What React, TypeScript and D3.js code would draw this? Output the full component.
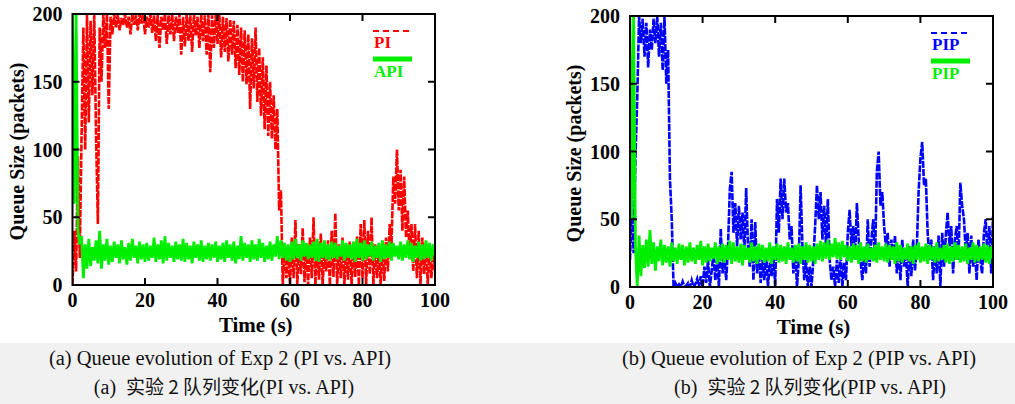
import React from "react";
import * as d3 from "d3";

// sample time step of the series below (s)
const STEP = 0.5;
const X_TICKS = [0, 20, 40, 60, 80, 100];
const Y_TICKS = [0, 50, 100, 150, 200];

const piQueue = [
  0, 40, 10, 95, 20, 110, 190, 100, 200, 120, 195, 140, 200, 110, 45, 190, 150, 200, 175, 200,
  130, 198, 185, 200, 190, 200, 188, 197, 192, 200, 190, 198, 185, 200, 192, 199, 188, 200, 193, 200,
  185, 198, 190, 200, 186, 199, 180, 200, 175, 198, 188, 200, 178, 199, 185, 200, 180, 198, 186, 200,
  170, 198, 176, 200, 180, 199, 172, 200, 184, 198, 175, 200, 180, 199, 170, 200, 157, 199, 175, 200,
  178, 200, 168, 198, 172, 197, 165, 196, 170, 195, 160, 192, 155, 190, 150, 188, 148, 185, 130, 182,
  145, 190, 135, 175, 125, 168, 115, 162, 110, 150, 108, 140, 100, 130, 55, 70, 0, 30, 5, 25,
  0, 35, 5, 48, 0, 30, 8, 42, 2, 28, 0, 35, 5, 50, 0, 30, 4, 38, 0, 25,
  10, 33, 0, 40, 6, 53, 0, 30, 5, 35, 0, 28, 4, 32, 0, 30, 6, 36, 0, 45,
  5, 48, 0, 40, 8, 50, 0, 30, 5, 25, 0, 30, 3, 35, 10, 45, 30, 80, 60, 100,
  55, 85, 40, 80, 35, 55, 20, 45, 10, 45, 5, 40, 0, 35, 8, 30, 0, 28, 5, 25,
  10,
];

const apiQueueA = [
  200, 60, 200, 40, 30, 36, 5, 30, 12, 34, 14, 28, 18, 33, 16, 40, 12, 30, 18, 34,
  15, 29, 17, 32, 20, 30, 16, 33, 19, 28, 15, 31, 18, 34, 20, 29, 16, 32, 19, 30,
  17, 31, 18, 29, 20, 35, 17, 30, 19, 33, 16, 36, 18, 31, 20, 29, 17, 32, 19, 30,
  18, 34, 17, 31, 19, 29, 16, 32, 20, 30, 18, 33, 17, 29, 19, 31, 18, 30, 20, 32,
  17, 29, 19, 31, 17, 33, 20, 30, 18, 32, 16, 29, 19, 36, 18, 31, 20, 30, 17, 33,
  19, 30, 18, 34, 20, 31, 17, 29, 19, 32, 18, 30, 21, 36, 19, 33, 20, 31, 18, 30,
  17, 32, 19, 34, 20, 30, 18, 33, 21, 31, 19, 30, 20, 32, 18, 34, 17, 31, 20, 33,
  19, 30, 18, 32, 20, 31, 19, 29, 21, 33, 18, 31, 20, 30, 19, 32, 17, 34, 20, 31,
  18, 33, 19, 30, 21, 32, 18, 29, 20, 31, 17, 33, 19, 30, 20, 32, 18, 31, 21, 29,
  19, 32, 18, 30, 20, 33, 19, 31, 17, 29, 20, 32, 18, 30, 19, 33, 20, 31, 18, 30,
  22,
];

const pipQueue = [
  20, 60, 25, 95, 140, 200, 180, 198, 170, 195, 162, 190, 175, 198, 180, 200, 170, 195, 160, 200,
  150, 175, 80, 50, 0, 3, 0, 2, 0, 4, 0, 1, 3, 0, 5, 0, 2, 6, 0, 8,
  0, 15, 3, 20, 0, 12, 25, 5, 20, 0, 43, 10, 22, 5, 30, 72, 85, 40, 62, 30,
  60, 35, 55, 25, 73, 30, 15, 50, 5, 48, 10, 25, 3, 20, 5, 25, 0, 18, 8, 22,
  0, 65, 40, 80, 50, 80, 55, 62, 35, 45, 10, 30, 0, 20, 75, 30, 5, 20, 0, 15,
  0, 20, 45, 75, 50, 70, 35, 60, 30, 65, 20, 5, 15, 0, 20, 3, 25, 0, 18, 5,
  40, 57, 30, 45, 20, 62, 35, 20, 5, 25, 10, 50, 15, 35, 50, 20, 85, 100, 60, 70,
  45, 30, 40, 15, 35, 20, 38, 10, 30, 5, 35, 15, 25, 0, 30, 8, 35, 12, 28, 70,
  95, 107, 75, 80, 40, 20, 35, 5, 30, 10, 38, 0, 40, 15, 38, 55, 30, 45, 10, 35,
  45, 20, 77, 60, 50, 25, 40, 10, 38, 15, 30, 5, 35, 20, 10, 40, 50, 20, 45, 10,
  52,
];

const apiQueueB = [
  200, 50, 200, 30, 0, 38, 8, 31, 14, 35, 15, 42, 17, 33, 12, 30, 19, 35, 16, 31,
  18, 30, 15, 33, 19, 29, 17, 32, 20, 31, 16, 30, 18, 33, 19, 29, 17, 31, 20, 34,
  16, 30, 18, 32, 19, 29, 21, 33, 17, 30, 19, 32, 18, 31, 20, 34, 17, 33, 19, 30,
  18, 32, 16, 31, 20, 29, 18, 33, 19, 30, 17, 32, 20, 31, 18, 29, 19, 33, 17, 30,
  20, 32, 18, 31, 19, 30, 17, 33, 20, 29, 18, 31, 19, 32, 17, 30, 20, 33, 18, 31,
  19, 30, 17, 32, 20, 34, 19, 33, 21, 35, 20, 32, 22, 36, 21, 33, 20, 34, 22, 31,
  19, 30, 18, 32, 20, 31, 17, 33, 19, 30, 18, 32, 20, 29, 19, 31, 18, 33, 20, 30,
  19, 32, 18, 31, 20, 30, 17, 33, 19, 31, 18, 29, 20, 32, 19, 30, 17, 31, 20, 33,
  18, 30, 19, 32, 17, 31, 20, 30, 18, 33, 19, 29, 20, 31, 18, 32, 17, 30, 19, 33,
  20, 31, 18, 30, 19, 32, 17, 29, 20, 33, 18, 31, 19, 30, 20, 32, 18, 31, 17, 30,
  21,
];

const RED = "#ff0000";
const GREEN = "#00ee00";
const BLUE = "#0000ff";
const SERIF = "Liberation Serif, serif";
const CJK = "Noto Sans CJK SC, sans-serif";

type PanelProps = {
  id: string;
  left: number;
  right: number;
  top: number;
  bottom: number;
  dashed: number[];
  dashedColor: string;
  solid: number[];
  legendTop: string;
  legendBottom: string;
  caption: string;
  captionCn: string[];
  captionX: number;
  captionCnX: number;
};

function Panel(p: PanelProps) {
  const x = d3.scaleLinear().domain([0, 100]).range([p.left, p.right]);
  const y = d3.scaleLinear().domain([0, 200]).range([p.bottom, p.top]);
  const line = d3
    .line<number>()
    .x((d, i) => x(i * STEP))
    .y((d) => y(d));
  const tick = 7;
  const legX = p.right - 62;
  const serif = { fontFamily: SERIF };

  return (
    <g>
      <defs>
        <clipPath id={"clip-" + p.id}>
          <rect x={p.left} y={p.top} width={p.right - p.left} height={p.bottom - p.top} />
        </clipPath>
      </defs>
      <g clipPath={`url(#clip-${p.id})`}>
        <path d={line(p.dashed) || ""} fill="none" stroke={p.dashedColor} strokeWidth={2.6} strokeDasharray="7,1.2" />
        <path d={line(p.solid) || ""} fill="none" stroke={GREEN} strokeWidth={2.8} />
      </g>

      {/* frame and inward ticks */}
      <rect x={p.left} y={p.top} width={p.right - p.left} height={p.bottom - p.top} fill="none" stroke="#000" strokeWidth={2} />
      {X_TICKS.slice(1, -1).map((t) => (
        <g key={"xt" + t} stroke="#000" strokeWidth={2}>
          <line x1={x(t)} x2={x(t)} y1={p.bottom} y2={p.bottom - tick} />
          <line x1={x(t)} x2={x(t)} y1={p.top} y2={p.top + tick} />
        </g>
      ))}
      {Y_TICKS.slice(1, -1).map((t) => (
        <g key={"yt" + t} stroke="#000" strokeWidth={2}>
          <line x1={p.left} x2={p.left + tick} y1={y(t)} y2={y(t)} />
          <line x1={p.right} x2={p.right - tick} y1={y(t)} y2={y(t)} />
        </g>
      ))}

      <g style={serif} fontWeight="bold" fontSize={20} fill="#000">
        {X_TICKS.map((t) => (
          <text key={"xl" + t} x={x(t)} y={p.bottom + 22} textAnchor="middle">
            {t}
          </text>
        ))}
        {Y_TICKS.map((t) => (
          <text key={"yl" + t} x={p.left - 10} y={y(t) + 7} textAnchor="end">
            {t}
          </text>
        ))}
        <text x={(p.left + p.right) / 2 + 2} y={p.bottom + 47} textAnchor="middle" fontSize={21}>
          Time (s)
        </text>
        <text
          transform={`translate(${p.left - 49},${(p.top + p.bottom) / 2 + 2}) rotate(-90)`}
          textAnchor="middle"
          fontSize={20}
        >
          Queue Size (packets)
        </text>
      </g>

      {/* legend */}
      <g style={serif} fontWeight="bold" fontSize={17}>
        <line x1={legX} x2={legX + 39} y1={p.top + 17} y2={p.top + 17} stroke={p.dashedColor} strokeWidth={2} strokeDasharray="6,4" />
        <text x={legX + 1} y={p.top + 34} fill={p.dashedColor}>
          {p.legendTop}
        </text>
        <line x1={legX} x2={legX + 39} y1={p.top + 45} y2={p.top + 45} stroke={GREEN} strokeWidth={5} />
        <text x={legX + 1} y={p.top + 63} fill={GREEN}>
          {p.legendBottom}
        </text>
      </g>

      <text x={p.captionX} y={365} textAnchor="middle" style={serif} fontSize={20.5} fill="#111">
        {p.caption}
      </text>
      <text x={p.captionCnX} y={394} textAnchor="middle" fontSize={20} fill="#111">
        <tspan style={serif}>{p.captionCn[0]}</tspan>
        <tspan style={{ fontFamily: CJK }} fontSize={19}>{p.captionCn[1]}</tspan>
        <tspan style={serif}>{p.captionCn[2]}</tspan>
      </text>
    </g>
  );
}

export default function App() {
  return (
    <svg width={1015} height={404} style={{ position: "absolute", left: 0, top: 0, background: "#fff" }}>
      <rect x={0} y={343} width={1015} height={61} fill="#f1f1f1" />
      <Panel
        id="a"
        left={72.5}
        right={435}
        top={14}
        bottom={285}
        dashed={piQueue}
        dashedColor={RED}
        solid={apiQueueA}
        legendTop="PI"
        legendBottom="API"
        caption="(a) Queue evolution of Exp 2 (PI vs. API)"
        captionCn={["(a)\u00a0\u00a0", "实验 2 队列变化", "(PI vs. API)"]}
        captionX={220}
        captionCnX={224}
      />
      <Panel
        id="b"
        left={630}
        right={993}
        top={16}
        bottom={287}
        dashed={pipQueue}
        dashedColor={BLUE}
        solid={apiQueueB}
        legendTop="PIP"
        legendBottom="PIP"
        caption="(b) Queue evolution of Exp 2 (PIP vs. API)"
        captionCn={["(b)\u00a0\u00a0", "实验 2 队列变化", "(PIP vs. API)"]}
        captionX={799}
        captionCnX={810}
      />
    </svg>
  );
}
